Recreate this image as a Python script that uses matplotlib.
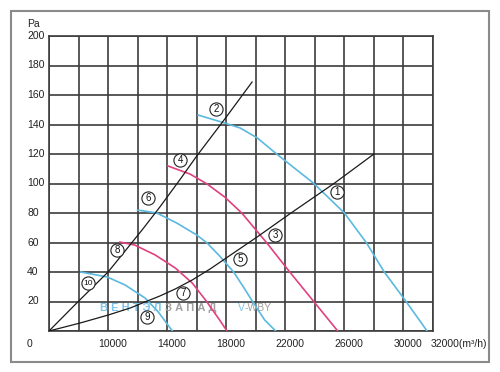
import numpy as np
import matplotlib
matplotlib.use("Agg")
import matplotlib.pyplot as plt
from matplotlib.patches import Rectangle
from matplotlib.transforms import blended_transform_factory

# ─── Data ────────────────────────────────────────────────────────────────────

# fan curves, m3/h vs Pa
FAN1_X = [16100, 17900, 18950, 20100, 21500, 23900, 26000, 27500, 28700, 30200, 31600]
FAN1_Y = [146.4, 141.0, 137.6, 130.9, 119.3, 100.3, 80.0, 59.7, 40.0, 19.7, 0]

FAN4_X = [14050, 15550, 16700, 17900, 19050, 20750, 22300, 23950, 25550]
FAN4_Y = [111.9, 106.4, 99.7, 90.8, 80.0, 59.7, 40.0, 19.7, 0]

FAN6_X = [12000, 13300, 14650, 16000, 16700, 17550, 18500, 19250, 19800, 20600, 21350]
FAN6_Y = [82.0, 80.0, 73.2, 65.1, 59.7, 50.9, 40.0, 28.5, 19.7, 7.5, 0]

FAN8_X = [10800, 11800, 13200, 14550, 15700, 16650, 17550, 18050]
FAN8_Y = [60.3, 58.3, 51.5, 42.7, 32.5, 20.3, 7.5, 0]

FAN10_X = [8150, 9950, 11150, 12500, 13400, 14350]
FAN10_Y = [40.0, 36.6, 31.2, 22.4, 12.9, 0]

# system curves (black)
STEEP_X = [6000, 7950, 10000, 11150, 12350, 13500, 14850, 16000, 17900, 19750]
STEEP_Y = [0, 19.7, 40.0, 54.2, 69.1, 84.0, 102.4, 118.6, 143.7, 168.8]

SHALLOW_X = [6000, 8100, 10000, 11500, 12500, 13500, 14550, 15700, 16900,
             18600, 20100, 22300, 25350, 28000]
SHALLOW_Y = [0, 5.4, 10.8, 15.6, 19.7, 23.7, 28.5, 34.6, 42.0,
             53.6, 63.8, 79.4, 100.4, 120.0]

# circled point labels
MARK_NUM = ["1", "2", "3", "4", "5", "6", "7", "8", "9", "10"]
MARK_X = [25500, 17300, 21300, 14870, 18930, 12700, 15070, 10600, 12630, 8640]
MARK_Y = [94.2, 150.5, 65.1, 115.9, 48.8, 90.2, 25.8, 54.9, 9.5, 32.5]

X_GRID = np.arange(6000, 32001, 2000)
Y_GRID = np.arange(0, 201, 20)
X_LABELS = [10000, 14000, 18000, 22000, 26000, 30000]
Y_LABELS = [20, 40, 60, 80, 100, 120, 140, 160, 180, 200]

CYAN = "#5ab9de"
PINK = "#e0417f"
GRID = "#3c3c3c"

plt.rcParams["font.family"] = ["Liberation Sans", "DejaVu Sans"]

# ─── Figure ──────────────────────────────────────────────────────────────────

fig = plt.figure(figsize=(5.0, 3.72), dpi=100)
fig.patch.set_facecolor("white")
fig.add_artist(Rectangle((11 / 500, 1 - 362 / 372), 478 / 500, 351 / 372,
                         transform=fig.transFigure, fill=False,
                         edgecolor="#8a8a8a", lw=1.5))

ax = fig.add_axes([49 / 500, 1 - 331 / 372, 384 / 500, 295 / 372])
ax.set_xlim(6000, 32000)
ax.set_ylim(0, 200)
ax.set_xticks(X_GRID)
ax.set_yticks(Y_GRID)
ax.set_xticklabels([])
ax.set_yticklabels([])
ax.tick_params(length=0)
ax.grid(True, color=GRID, lw=1.2)
for sp in ax.spines.values():
    sp.set_color(GRID)
    sp.set_linewidth(1.2)

for xs, ys, c in [(FAN1_X, FAN1_Y, CYAN), (FAN4_X, FAN4_Y, PINK),
                  (FAN6_X, FAN6_Y, CYAN), (FAN8_X, FAN8_Y, PINK),
                  (FAN10_X, FAN10_Y, CYAN)]:
    ax.plot(xs, ys, color=c, lw=1.2, zorder=3, solid_joinstyle="round")

ax.plot(STEEP_X, STEEP_Y, color="#1a1a1a", lw=0.9, zorder=4)
ax.plot(SHALLOW_X, SHALLOW_Y, color="#1a1a1a", lw=0.9, zorder=4)

ax.plot(MARK_X, MARK_Y, "o", ms=9.5, mfc="white", mec="#222222", mew=0.8,
        zorder=5, clip_on=False)
for n, x, y in zip(MARK_NUM, MARK_X, MARK_Y):
    ax.text(x, y, n, ha="center", va="center", zorder=6,
            fontsize=6 if len(n) > 1 else 7, color="#111111")

# axis labels
tx = blended_transform_factory(ax.transData, ax.transAxes)
for v in X_LABELS:
    ax.text(v + 330, -0.044, str(v), transform=tx, ha="center", va="center",
            fontsize=7.5, color="#222222")
ax.text(31850, -0.044, "32000(m³/h)", transform=tx, ha="left", va="center",
        fontsize=7.5, color="#222222")

ty = blended_transform_factory(ax.transAxes, ax.transData)
for v in Y_LABELS:
    ax.text(-0.057, v, str(v), transform=ty, ha="left", va="center",
            fontsize=7.5, color="#222222")
ax.text(-0.057, -0.044, "0", transform=ax.transAxes, ha="left", va="center",
        fontsize=7.5, color="#222222")
ax.text(-0.057, 1.04, "Pa", transform=ax.transAxes, ha="left", va="center",
        fontsize=7.5, color="#222222")

# watermark
t1 = ax.text(0.133, 0.078, "В Е Н Т Э Л ", transform=ax.transAxes,
             ha="left", va="center", fontsize=8, fontweight="bold",
             color="#7cc4ea", zorder=2)
ax.annotate("З А П А Д", xy=(1, 0.5), xycoords=t1, ha="left", va="center",
            fontsize=8, fontweight="bold", color="#a0a0a0", zorder=2)
t2 = ax.text(0.492, 0.078, "V", transform=ax.transAxes, ha="left",
             va="center", fontsize=7.5, color="#7cc4ea", zorder=2)
ax.annotate("-WBY", xy=(1, 0.5), xycoords=t2, ha="left", va="center",
            fontsize=7.5, color="#a0a0a0", zorder=2)

fig.savefig("out.png", dpi=100)
